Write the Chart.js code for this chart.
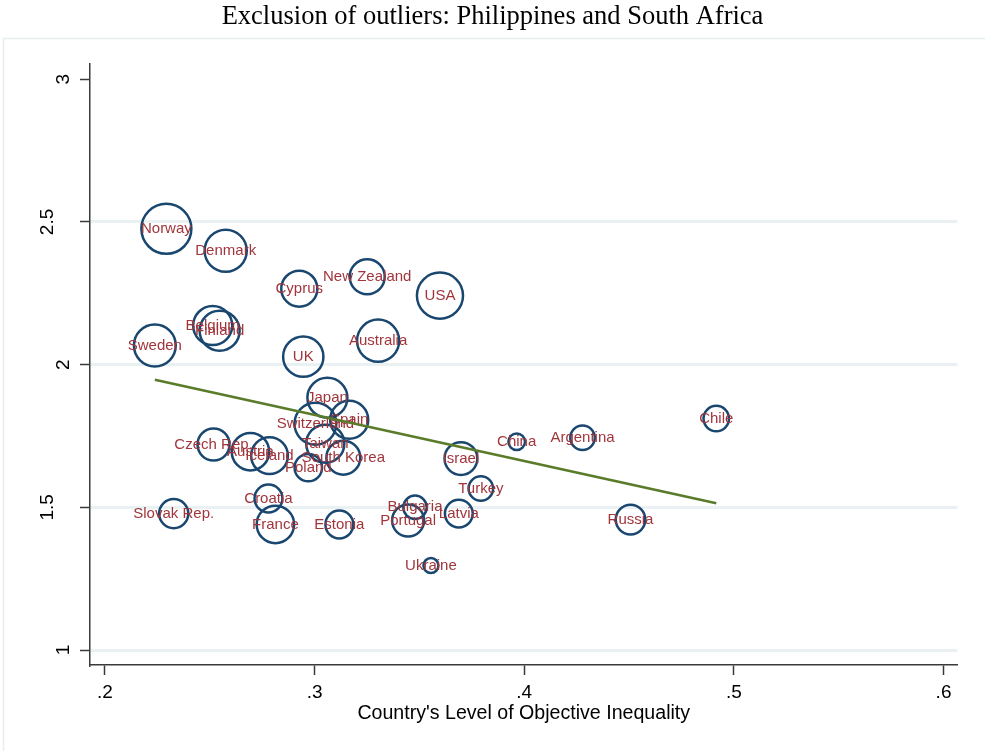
<!DOCTYPE html>
<html>
<head>
<meta charset="utf-8">
<script src="https://cdn.jsdelivr.net/npm/chart.js@4"></script>
<style>
  html, body { margin: 0; padding: 0; background: #fff; }
  #wrap { width: 985px; height: 751px; }
</style>
</head>
<body>
<div id="wrap"><canvas id="chart" width="985" height="751"></canvas></div>
<script>
// ─── Data ─────────────────────────────────────────────────────────────────────
const countries = ['Norway', 'Denmark', 'Cyprus', 'New Zealand', 'USA', 'Belgium', 'Finland', 'Sweden',
  'Australia', 'UK', 'Japan', 'Spain', 'Switzerland', 'Taiwan', 'South Korea', 'Czech Rep.', 'Austria',
  'Iceland', 'Poland', 'Croatia', 'Slovak Rep.', 'France', 'Estonia', 'Bulgaria', 'Portugal', 'Ukraine',
  'Israel', 'Turkey', 'Latvia', 'China', 'Argentina', 'Chile', 'Russia'];
const inequality = [0.2293, 0.2576, 0.2927, 0.3251, 0.3598, 0.2514, 0.2547, 0.2238,
  0.3303, 0.2946, 0.3061, 0.3165, 0.3004, 0.3051, 0.3137, 0.2518, 0.2694,
  0.2785, 0.2970, 0.2780, 0.2328, 0.2813, 0.3118, 0.3479, 0.3446, 0.3555,
  0.3698, 0.3793, 0.3688, 0.3964, 0.4278, 0.4916, 0.4507];
const exclusion = [2.476, 2.399, 2.266, 2.308, 2.242, 2.137, 2.119, 2.067,
  2.084, 2.028, 1.884, 1.807, 1.793, 1.723, 1.674, 1.720, 1.695,
  1.681, 1.639, 1.531, 1.478, 1.440, 1.440, 1.500, 1.454, 1.296,
  1.671, 1.566, 1.478, 1.730, 1.744, 1.811, 1.457];
const weights = [100, 71, 52, 49, 85, 61, 64, 70,
  71, 65, 64, 58, 70, 58, 46, 41, 56,
  54, 30, 31, 34, 56, 31, 22, 41, 9,
  43, 24, 31, 11, 24, 26, 35];

const fitX = [0.2238, 0.4916];
const fitY = [1.947, 1.514];

const xTicks = [0.2, 0.3, 0.4, 0.5, 0.6];
const xTickLabels = ['.2', '.3', '.4', '.5', '.6'];
const yTicks = [1, 1.5, 2, 2.5, 3];
const yTickLabels = ['1', '1.5', '2', '2.5', '3'];

// ─── Styles ───────────────────────────────────────────────────────────────────
const NAVY = '#1a476f';
const LABEL_RED = '#a0363c';
const FIT_GREEN = '#5a7b2a';
const AXIS = '#3a3a3a';
const GRID = '#eaf1f3';
const SANS = "'Liberation Sans', Arial, sans-serif";

Chart.defaults.font.family = SANS;
Chart.defaults.color = '#000';

// outer frame of the plot region (Stata style)
const framePlugin = {
  id: 'frame',
  beforeDraw(chart) {
    const ctx = chart.ctx;
    ctx.save();
    ctx.fillStyle = '#fff';
    ctx.fillRect(0, 0, chart.width, chart.height);
    ctx.strokeStyle = '#e6eef0';
    ctx.lineWidth = 1.5;
    ctx.strokeRect(3.5, 38.5, chart.width + 20, chart.height + 20);
    ctx.restore();
  }
};

// country labels centred on the bubbles
const labelPlugin = {
  id: 'countryLabels',
  afterDatasetDraw(chart, args) {
    if (args.index !== 1) return;
    const ctx = chart.ctx;
    ctx.save();
    ctx.font = '15px ' + SANS;
    ctx.fillStyle = LABEL_RED;
    ctx.textAlign = 'center';
    ctx.textBaseline = 'middle';
    args.meta.data.forEach((el, i) => {
      ctx.fillText(countries[i], el.x, el.y);
    });
    ctx.restore();
  }
};

// rotated y tick labels (Stata places them by their own width)
const yLabelPlugin = {
  id: 'yLabels',
  afterDraw(chart) {
    const scale = chart.scales.y;
    const ctx = chart.ctx;
    ctx.save();
    ctx.font = '19px ' + SANS;
    ctx.fillStyle = '#000';
    ctx.textAlign = 'center';
    ctx.textBaseline = 'middle';
    yTicks.forEach((v, i) => {
      const w = ctx.measureText(yTickLabels[i]).width;
      const py = scale.getPixelForValue(v);
      ctx.save();
      ctx.translate(scale.right - 17 - w, py);
      ctx.rotate(-Math.PI / 2);
      ctx.fillText(yTickLabels[i], 0, 1);
      ctx.restore();
    });
    ctx.restore();
  }
};

const bubbles = countries.map((c, i) => ({ x: inequality[i], y: exclusion[i], r: Math.sqrt(weights[i]) * 2.5 }));
const fitLine = fitX.map((x, i) => ({ x: x, y: fitY[i] }));

new Chart(document.getElementById('chart'), {
  type: 'bubble',
  data: {
    datasets: [
      {
        type: 'line',
        label: 'Fitted values',
        data: fitLine,
        borderColor: FIT_GREEN,
        borderWidth: 2.5,
        pointRadius: 0,
        fill: false,
        tension: 0,
      },
      {
        label: 'Countries',
        data: bubbles,
        backgroundColor: 'rgba(0,0,0,0)',
        borderColor: NAVY,
        borderWidth: 2.5,
      }
    ]
  },
  options: {
    responsive: false,
    animation: false,
    events: [],
    layout: { padding: 0 },
    plugins: {
      legend: { display: false },
      tooltip: { enabled: false },
      title: {
        display: true,
        text: 'Exclusion of outliers: Philippines and South Africa',
        font: { family: "'Liberation Serif', 'Times New Roman', serif", size: 26.5, weight: 'normal' },
        color: '#000',
        padding: { top: 1, bottom: 30.5 },
      }
    },
    scales: {
      x: {
        type: 'linear',
        min: 0.19287,
        max: 0.60666,
        afterBuildTicks: s => { s.ticks = xTicks.map(v => ({ value: v })); },
        afterFit: s => { s.height = 86; },
        ticks: {
          callback: v => xTickLabels[xTicks.indexOf(v)] ?? '',
          font: { size: 19 },
          color: '#000',
          padding: 6,
          maxRotation: 0,
        },
        grid: { drawOnChartArea: false, drawTicks: true, tickLength: 10, tickColor: AXIS, tickWidth: 1.5 },
        border: { display: true, color: AXIS, width: 1.5 },
        title: {
          display: true,
          text: "Country's Level of Objective Inequality",
          font: { size: 19.6 },
          color: '#000',
          padding: { top: 0, bottom: 26 },
        }
      },
      y: {
        type: 'linear',
        min: 0.9475,
        max: 3.056,
        afterBuildTicks: s => { s.ticks = yTicks.map(v => ({ value: v })); },
        afterFit: s => { s.width = 90; },
        ticks: { display: false },
        grid: {
          drawTicks: true,
          tickLength: 10,
          tickColor: AXIS,
          tickWidth: 1.5,
          color: ctx => (ctx.tick && ctx.tick.value === 3) ? 'rgba(0,0,0,0)' : GRID,
          lineWidth: 3,
        },
        border: { display: true, color: AXIS, width: 1.5 },
      },
      // empty right margin so the title centres on the full width
      margin: {
        type: 'linear',
        position: 'right',
        display: true,
        afterFit: s => { s.width = 25; },
        ticks: { display: false },
        grid: { display: false, drawTicks: false },
        border: { display: false },
      }
    }
  },
  plugins: [framePlugin, labelPlugin, yLabelPlugin]
});
</script>
</body>
</html>
